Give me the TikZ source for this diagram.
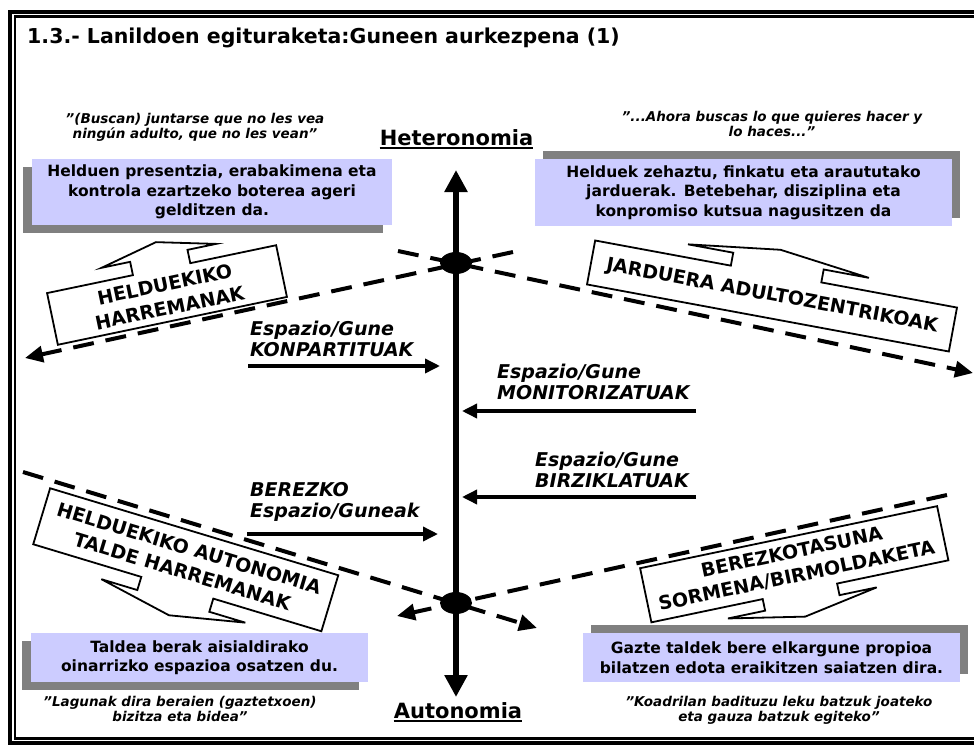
\documentclass[tikz,border=0pt]{standalone}
\usepackage{fontspec}
\setmainfont{DejaVu Sans}
\usetikzlibrary{arrows.meta,shapes.geometric,shadows}
\definecolor{boxblue}{HTML}{CCCCFF}
\definecolor{shadowgray}{HTML}{808080}
\begin{document}
\begin{tikzpicture}[x=1pt,y=-1pt,
  bluebox/.style={fill=boxblue,inner sep=0pt,align=center,font=\fontsize{15.5}{19.5}\selectfont\bfseries},
  shadowdl/.style={drop shadow={shadow xshift=-9pt,shadow yshift=-8pt,fill=shadowgray,opacity=1}},
  shadowur/.style={drop shadow={shadow xshift=8pt,shadow yshift=8pt,fill=shadowgray,opacity=1}},
  quotetext/.style={align=center,inner sep=0pt,font=\fontsize{13.5}{15}\selectfont\bfseries\itshape},
  axislabel/.style={inner sep=0pt,anchor=base,font=\fontsize{21}{24}\selectfont\bfseries},
  spacelabel/.style={align=left,inner sep=0pt,anchor=south west,font=\fontsize{19}{21.5}\selectfont\bfseries\itshape},
  dashedarrow/.style={line width=4pt,dash pattern=on 21pt off 12pt,-{Triangle[length=18pt,width=16pt]}},
  solidarrow/.style={line width=3.5pt,-{Triangle[length=15pt,width=14pt]}},
  axisline/.style={line width=6pt,{Triangle[length=22pt,width=22pt]}-{Triangle[length=22pt,width=22pt]}},
  calloutline/.style={draw=black,fill=white,line width=1.8pt,line join=miter},
  callouttext/.style={align=center,inner sep=0pt,transform shape,font=\fontsize{19}{24}\selectfont\bfseries},
  crossing/.style={ellipse,fill=black,minimum width=32pt,minimum height=22pt,inner sep=0pt}
]
\useasboundingbox (0,0) rectangle (974,744);
\clip (0,0) rectangle (974,744);
\fill[white] (0,0) rectangle (974,744);

% frame
\draw[line width=4pt] (10,12) rectangle (1020,742.5);
\draw[line width=2.5pt] (15,16.7) rectangle (1015,738.3);

% title
\node[anchor=base west,inner sep=0pt,font=\fontsize{20.5}{24}\selectfont\bfseries] (title) at (27,43) {1.3.- Lanildoen egituraketa:Guneen aurkezpena (1)};

% blue boxes
\node[bluebox,shadowdl,minimum width=360pt,minimum height=66pt] (b1) at (212,192) {Helduen presentzia, erabakimena eta\\kontrola ezartzeko boterea ageri\\gelditzen da.};
\node[bluebox,shadowur,minimum width=417pt,minimum height=67pt] (b2) at (743.5,192.5) {Helduek zehaztu, finkatu eta araututako\\jarduerak. Betebehar, disziplina eta\\konpromiso kutsua nagusitzen da};
\node[bluebox,shadowdl,minimum width=337pt,minimum height=49pt] (b3) at (199.5,657.5) {Taldea berak aisialdirako\\oinarrizko espazioa osatzen du.};
\node[bluebox,shadowur,minimum width=377pt,minimum height=49pt] (b4) at (771.5,657.5) {Gazte taldek bere elkargune propioa\\bilatzen edota eraikitzen saiatzen dira.};

% quotes
\node[quotetext] (q1) at (195,127) {"(Buscan) juntarse que no les vea\\ningún adulto, que no les vean”};
\node[quotetext] (q2) at (772,124) {"...Ahora buscas lo que quieres hacer y\\lo haces...”};
\node[quotetext] (q3) at (180,709) {"Lagunak dira beraien (gaztetxoen)\\bizitza eta bidea”};
\node[quotetext] (q4) at (779,710) {"Koadrilan badituzu leku batzuk joateko\\eta gauza batzuk egiteko”};

% axis labels
\node[axislabel] (het) at (456.5,145) {Heteronomia};
\draw[line width=2pt] ([yshift=-3pt]het.base west) -- ([yshift=-3pt]het.base east);
\node[axislabel] (aut) at (458,718) {Autonomia};
\draw[line width=2pt] ([yshift=-3pt]aut.base west) -- ([yshift=-3pt]aut.base east);

% dashed lines
\coordinate (a1) at (513,252); \coordinate (a2) at (25,358);
\coordinate (d1) at (398,251); \coordinate (d2) at (973,373);
\coordinate (c1s) at (23,472); \coordinate (c1e) at (537,628);
\coordinate (e1s) at (947,495); \coordinate (e1e) at (397,616);
\draw[dashedarrow] (a1) -- (a2);
\draw[dashedarrow] (d1) -- (d2);
\draw[dashedarrow] (c1s) -- (c1e);
\draw[dashedarrow] (e1s) -- (e1e);

% callouts
\begin{scope}[shift={(167,295)},rotate=11.8]
\draw[calloutline] (-117,-26.4) -- (-29.3,-26.4) -- (-29.3,-40) -- (-58.5,-40) -- (0,-54) -- (58.5,-40) -- (29.3,-40) -- (29.3,-26.4) -- (117,-26.4) -- (117,26.4) -- (-117,26.4) -- cycle;
\node[callouttext] (k1t) at (0,1) {HELDUEKIKO\\HARREMANAK};
\end{scope}
\begin{scope}[shift={(772,296)},rotate=-10.5]
\draw[calloutline] (-184,-22.35) -- (-46,-22.35) -- (-46,-35.5) -- (-92,-35.5) -- (0,-47) -- (92,-35.5) -- (46,-35.5) -- (46,-22.35) -- (184,-22.35) -- (184,22.35) -- (-184,22.35) -- cycle;
\node[callouttext] (k2t) at (0,0) {JARDUERA ADULTOZENTRIKOAK};
\end{scope}
\begin{scope}[shift={(185.75,559.75)},rotate=-16.8]
\draw[calloutline] (-150.5,-29.25) -- (150.5,-29.25) -- (150.5,29.25) -- (37.6,29.25) -- (37.6,43) -- (75.2,43) -- (0,58) -- (-75.2,43) -- (-37.6,43) -- (-37.6,29.25) -- (-150.5,29.25) -- cycle;
\node[callouttext] (k3t) at (0,0) {HELDUEKIKO AUTONOMIA\\TALDE HARREMANAK};
\end{scope}
\begin{scope}[shift={(794.25,564.25)},rotate=11.8]
\draw[calloutline] (-151.7,-27.65) -- (151.7,-27.65) -- (151.7,27.65) -- (38,27.65) -- (38,39.5) -- (76,39.5) -- (0,53.5) -- (-76,39.5) -- (-38,39.5) -- (-38,27.65) -- (-151.7,27.65) -- cycle;
\node[callouttext] (k4t) at (0,0) {BEREZKOTASUNA\\SORMENA/BIRMOLDAKETA};
\end{scope}

% axis
\coordinate (top) at (456,170); \coordinate (bot) at (456,697);
\draw[axisline] (bot) -- (top);
\node[crossing] (x1) at (456,263) {};
\node[crossing] (x2) at (456,603) {};

% horizontal arrows
\coordinate (k1) at (248,366); \coordinate (k2) at (440,366);
\coordinate (m1) at (696,411); \coordinate (m2) at (462,411);
\coordinate (r1) at (696,497); \coordinate (r2) at (462,497);
\coordinate (z1) at (247,534); \coordinate (z2) at (438,534);
\draw[solidarrow] (k1) -- (k2);
\draw[solidarrow] (m1) -- (m2);
\draw[solidarrow] (r1) -- (r2);
\draw[solidarrow] (z1) -- (z2);

\node[spacelabel] (s1) at (250,357) {Espazio/Gune\\KONPARTITUAK};
\node[spacelabel] (s2) at (497,400) {Espazio/Gune\\MONITORIZATUAK};
\node[spacelabel] (s3) at (535,488) {Espazio/Gune\\BIRZIKLATUAK};
\node[spacelabel] (s4) at (250,522) {BEREZKO\\Espazio/Guneak};
\end{tikzpicture}
\end{document}
